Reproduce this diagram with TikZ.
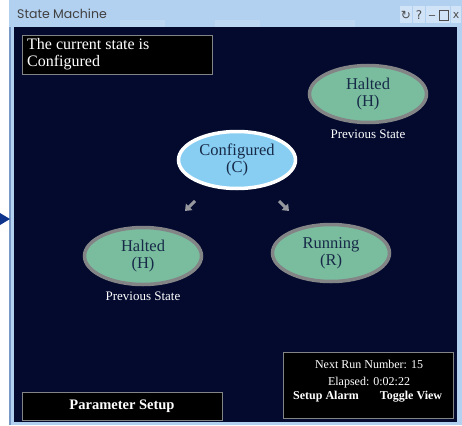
\documentclass[tikz,border=0pt]{standalone}
\usepackage{fontspec}
\setmainfont{Liberation Serif}
\newfontfamily\titlefont{Poppins}
\newfontfamily\symfont{DejaVu Sans}
\usetikzlibrary{shapes.geometric,arrows.meta}

\definecolor{frameblue}{RGB}{178,208,240}
\definecolor{framedark}{RGB}{120,152,198}
\definecolor{panelnavy}{RGB}{3,10,46}
\definecolor{haltgreen}{RGB}{122,188,158}
\definecolor{stategray}{RGB}{130,132,134}
\definecolor{confblue}{RGB}{136,206,242}
\definecolor{statetext}{RGB}{22,42,72}
\definecolor{hintgray}{RGB}{150,152,158}
\definecolor{pointblue}{RGB}{14,52,140}

\begin{document}
\begin{tikzpicture}[x=1pt,y=-1pt,
	state/.style={ellipse,draw=stategray,line width=3.5pt,fill=haltgreen,text=statetext,
		minimum width=117pt,minimum height=57pt,inner sep=0pt,align=center,
		font=\fontsize{16.5}{17}\selectfont},
	infobox/.style={draw=stategray,line width=0.8pt,fill=black,text=white,inner sep=0pt},
	note/.style={text=white,font=\fontsize{13}{13}\selectfont,inner sep=0pt}]
\useasboundingbox (0,0) rectangle (462,425);
\fill[white] (0,0) rectangle (462,425);
\fill[frameblue] (9,0) rectangle (462,425);
\fill[framedark] (9,27) rectangle (11,425);
\fill[frameblue!85!white] (120,20) rectangle (165,27);
\fill[frameblue!85!white] (215,20) rectangle (260,27);
\fill[frameblue!85!white] (320,20) rectangle (355,27);
\fill[panelnavy] (14,27) rectangle (457,422);
\node[anchor=west,text=black!75,font=\titlefont\fontsize{12.5}{13}\selectfont,inner sep=0pt] (title) at (17,14) {State Machine};
\node[fill=frameblue!60!white,text=black!70,font=\symfont\fontsize{12}{12}\selectfont,minimum width=12pt,minimum height=17pt,inner sep=0pt] (reload) at (406,15) {↻};
\node[fill=frameblue!60!white,text=black!70,font=\symfont\fontsize{12}{12}\selectfont,minimum width=12pt,minimum height=17pt,inner sep=0pt] (help) at (419,15) {?};
\node[fill=frameblue!60!white,text=black!70,font=\symfont\fontsize{12}{12}\selectfont,minimum width=12pt,minimum height=17pt,inner sep=0pt] (minim) at (432,15) {\_};
\node[fill=frameblue!60!white,minimum width=12pt,minimum height=17pt,inner sep=0pt] (maxim) at (444,15) {};
\draw[black!70,line width=0.9pt] (439.5,10) rectangle (448.5,20);
\node[fill=frameblue!60!white,text=black!70,font=\symfont\fontsize{11}{11}\selectfont,minimum width=10pt,minimum height=17pt,inner sep=0pt] (close) at (456,15) {x};

\node[infobox,minimum width=190pt,minimum height=39pt,anchor=north west] (current) at (22,35) {};
\node[text=white,anchor=north west,align=left,font=\fontsize{16}{17}\selectfont,inner sep=0pt] (currenttext) at (27,38) {The current state is\\Configured};

\node[state] (haltedtop) at (368,94) {Halted\\(H)};
\node[note,below=5pt] (prevtop) at (haltedtop.south) {Previous State};
\node[state,draw=white,fill=confblue] (configured) at (237,160) {Configured\\(C)};
\node[state] (haltedleft) at (143,256) {Halted\\(H)};
\node[note,below=5pt] (prevleft) at (haltedleft.south) {Previous State};
\node[state] (running) at (331,253) {Running\\(R)};

\coordinate (cl1) at (195,201);
\coordinate (cl2) at (185,211);
\coordinate (cr1) at (279,201);
\coordinate (cr2) at (289,211);
\draw[hintgray,line width=3pt,-{Triangle[length=6pt,width=9pt]}] (cl1) -- (cl2);
\draw[hintgray,line width=3pt,-{Triangle[length=6pt,width=9pt]}] (cr1) -- (cr2);

\fill[pointblue] (0,213) -- (10,219) -- (0,225) -- cycle;

\node[infobox,minimum width=170pt,minimum height=66pt,anchor=north west] (runbox) at (283,352) {};
\node[text=white,font=\fontsize{12}{12}\selectfont,inner sep=0pt] (nextrun) at (369,364) {Next Run Number: 15};
\node[text=white,font=\fontsize{12}{12}\selectfont,inner sep=0pt] (elapsed) at (369,383) {Elapsed: 0:02:22};
\node[text=white,font=\bfseries\fontsize{12}{12}\selectfont,inner sep=0pt] (alarm) at (326,397) {Setup Alarm};
\node[text=white,font=\bfseries\fontsize{12}{12}\selectfont,inner sep=0pt] (toggle) at (411,397) {Toggle View};

\node[infobox,minimum width=200pt,minimum height=28pt,anchor=north west] (paramset) at (22,392) {};
\node[text=white,font=\bfseries\fontsize{14.5}{15}\selectfont,inner sep=0pt] (paramtext) at (122,406) {Parameter Setup};
\end{tikzpicture}
\end{document}
